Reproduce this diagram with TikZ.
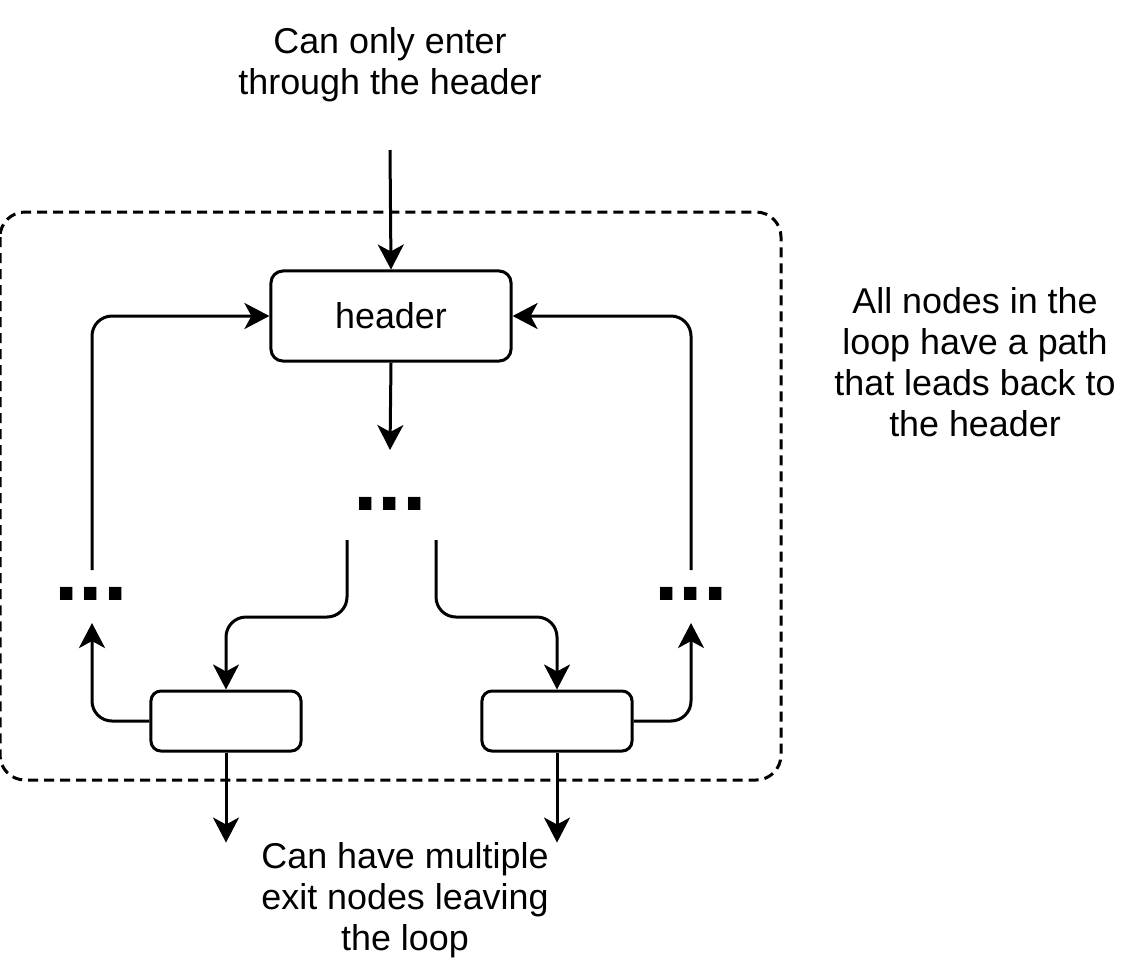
\documentclass[tikz,border=0pt]{standalone}
\usepackage{fontspec}
\setmainfont{Liberation Sans}
\usetikzlibrary{positioning, arrows.meta}

\begin{document}
\begin{tikzpicture}[
  x=0.01cm, y=-0.01cm,
  font=\fontsize{10.2}{11.6}\selectfont,
  line width=0.03cm,
  block/.style={draw, rounded corners=0.12cm, minimum width=2.4cm, minimum height=0.9cm, align=center, inner sep=0pt},
  exitbox/.style={draw, rounded corners=0.1cm, minimum width=1.5cm, minimum height=0.6cm, inner sep=0pt},
  dots/.style={font=\fontsize{25}{30}\selectfont\bfseries, inner sep=0pt},
  note/.style={align=center},
  >={Stealth[length=0.25cm, width=0.26cm, inset=0.07cm]}
]
\useasboundingbox (0,0) rectangle (1143,966);

% --- loop region (dashed) ---
\draw[dash pattern=on 0.1cm off 0.06cm, rounded corners=0.25cm] (0,212) rectangle (781,780);

% --- nodes ---
\node[block] (header) at (391,316) {header};
\node[dots] (mid) at (390,504) {...};
\node[dots] (left) at (91,594) {...};
\node[dots] (right) at (691,594) {...};
\node[exitbox] (exitL) at (226,721) {};
\node[exitbox] (exitR) at (557,721) {};

% --- notes ---
\node[note] (enter) at (390,65) {Can only enter\\through the header};
\node[note] (backnote) at (975,362) {All nodes in the\\loop have a path\\that leads back to\\the header};
\node[note] (exitnote) at (405,900) {Can have multiple\\exit nodes leaving\\the loop};

% free ends
\coordinate (in) at (390,150);
\coordinate (midin) at (390,450);
\coordinate (midL) at (347,540);
\coordinate (midR) at (436,540);
\coordinate (leftin) at (92,623);
\coordinate (rightin) at (691,623);
\coordinate (leftup) at (92,570);
\coordinate (rightup) at (691,570);

% entry and body
\draw[->] (in) -- (header.north);
\draw[->] (header.south) -- (midin);
\draw[->, rounded corners=0.2cm] (midL) -- ++(0,77) -| (exitL.north);
\draw[->, rounded corners=0.2cm] (midR) -- ++(0,77) -| (exitR.north);

% paths back to the header
\draw[->, rounded corners=0.2cm] (exitL.west) -| (leftin);
\draw[->, rounded corners=0.2cm] (exitR.east) -| (rightin);
\draw[->, rounded corners=0.2cm] (leftup) |- (header.west);
\draw[->, rounded corners=0.2cm] (rightup) |- (header.east);

% exits
\draw[->] (exitL.south) -- ++(0,90);
\draw[->] (exitR.south) -- ++(0,90);
\end{tikzpicture}
\end{document}
